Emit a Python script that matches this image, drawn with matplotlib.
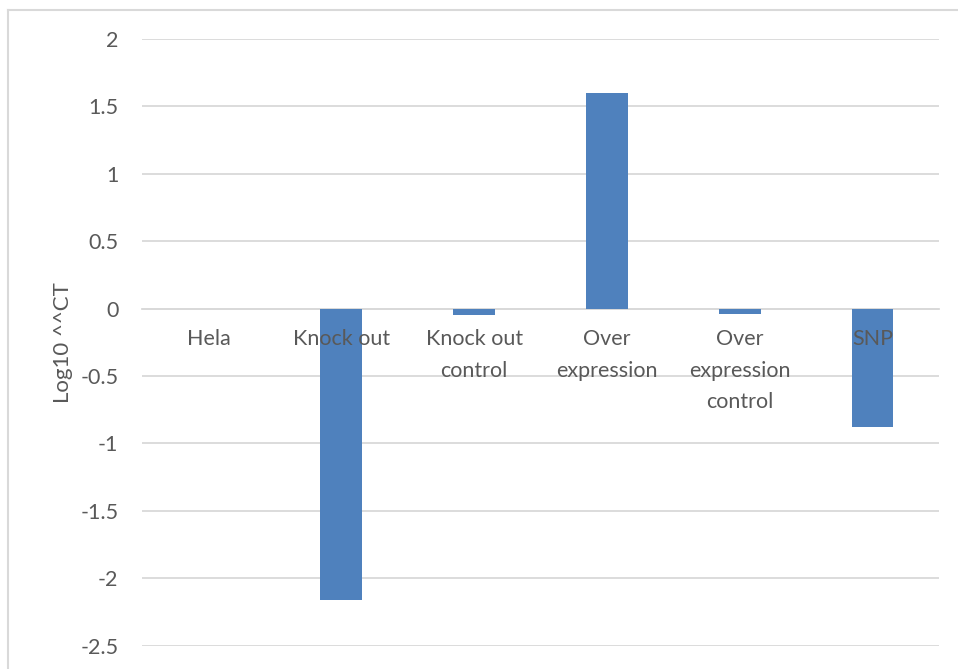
import matplotlib.pyplot as plt
import matplotlib.lines as mlines
import numpy as np

plt.rcParams['font.family'] = ['Lato', 'DejaVu Sans']
plt.rcParams['axes.unicode_minus'] = False

categories = ["Hela", "Knock out", "Knock out\ncontrol", "Over\nexpression",
              "Over\nexpression\ncontrol", "SNP"]
values = [0.0, -2.166, -0.05, 1.60, -0.04, -0.878]
yticks = [2, 1.5, 1, 0.5, 0, -0.5, -1, -1.5, -2, -2.5]
ytick_labels = ["2", "1.5", "1", "0.5", "0", "-0.5", "-1", "-1.5", "-2", "-2.5"]
ylabel = "Log10 ^^CT"

text_col = "#595959"
grid_col = "#d9d9d9"
bar_col = "#4f81bd"
fs = 15.5

fig = plt.figure(figsize=(9.58, 6.69), dpi=100)
ax = fig.add_axes([142/958, 1 - 645.5/669, 797/958, (645.5 - 39)/669])

x = np.arange(len(categories))
# gridlines under the bars, tick labels (axis, zorder 2.5) over them
ax.hlines(yticks, -0.5, len(categories) - 0.5, color=grid_col, lw=1.3, zorder=0.5)
ax.bar(x, values, width=0.3125, color=bar_col, zorder=2)
ax.set_axisbelow(False)

ax.set_xlim(-0.5, len(categories) - 0.5)
ax.set_ylim(-2.5, 2)
ax.set_yticks(yticks)
ax.set_yticklabels(ytick_labels)

# category axis sits on zero, like excel
ax.spines['bottom'].set_position(('data', 0))
ax.spines['bottom'].set_color(grid_col)
ax.spines['bottom'].set_linewidth(1.3)
ax.spines['bottom'].set_zorder(0.5)
for s in ['top', 'right', 'left']:
    ax.spines[s].set_visible(False)

ax.set_xticks(x)
ax.set_xticklabels(categories, linespacing=1.7)
ax.tick_params(axis='x', length=0, pad=15, labelsize=fs, labelcolor=text_col)
ax.tick_params(axis='y', length=0, pad=17, labelsize=fs, labelcolor=text_col)

ax.set_ylabel(ylabel, fontsize=16, color=text_col)
ax.yaxis.set_label_coords(-0.087, 0.5)

# chart border (cut at right/bottom in the original screenshot)
fig.add_artist(mlines.Line2D([8/958, 8/958], [0, 1 - 10/669], color=grid_col, lw=1.5))
fig.add_artist(mlines.Line2D([8/958, 1], [1 - 10/669, 1 - 10/669], color=grid_col, lw=1.5))

fig.savefig("out.png", dpi=100)
